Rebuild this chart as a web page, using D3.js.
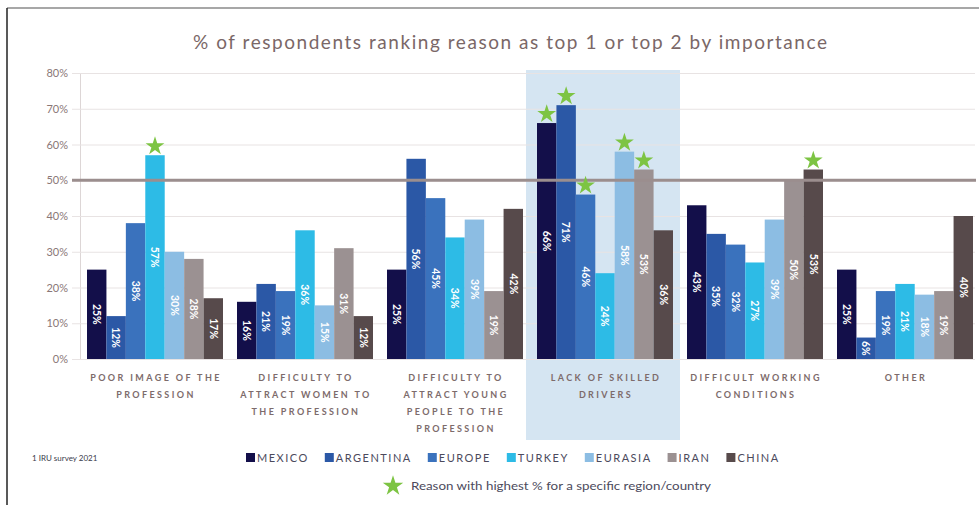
<!DOCTYPE html>
<html>
<head>
<meta charset="utf-8">
<script src="https://cdn.jsdelivr.net/npm/d3@7"></script>
<style>
  body { margin: 0; background: #fff; }
  svg { display: block; }
</style>
</head>
<body>
<script>
// chart data
var categories = [
  ["POOR IMAGE OF THE", "PROFESSION"],
  ["DIFFICULTY TO", "ATTRACT WOMEN TO", "THE PROFESSION"],
  ["DIFFICULTY TO", "ATTRACT YOUNG", "PEOPLE TO THE", "PROFESSION"],
  ["LACK OF SKILLED", "DRIVERS"],
  ["DIFFICULT WORKING", "CONDITIONS"],
  ["OTHER"]
];
var countries = ["MEXICO", "ARGENTINA", "EUROPE", "TURKEY", "EURASIA", "IRAN", "CHINA"];
var colors = ["#130f4a", "#2b58a6", "#3a72bd", "#2dbbe6", "#8cbde3", "#9b9192", "#574a4b"];

var mexico    = [25, 16, 25, 66, 43, 25];
var argentina = [12, 21, 56, 71, 35, 6];
var europe    = [38, 19, 45, 46, 32, 19];
var turkey    = [57, 36, 34, 24, 27, 21];
var eurasia   = [30, 15, 39, 58, 39, 18];
var iran      = [28, 31, 19, 53, 50, 19];
var china     = [17, 12, 42, 36, 53, 40];
var series = [mexico, argentina, europe, turkey, eurasia, iran, china];

// which bars get a star: [category index, country index]
var stars = [[0, 3], [3, 0], [3, 1], [3, 2], [3, 4], [3, 5], [4, 6]];
var highlightCat = 3;
var yTicks = [0, 10, 20, 30, 40, 50, 60, 70, 80];

var W = 979, H = 505;
var svg = d3.select("body").append("svg").attr("width", W).attr("height", H);

var x0 = d3.scaleBand().domain(d3.range(categories.length)).range([80, 980]);
var x1 = d3.scaleBand().domain(countries).range([7, 143]);
var y = d3.scaleLinear().domain([0, 80]).range([359, 73]);

// frame
svg.append("line").attr("x1", 7).attr("x2", W).attr("y1", 8).attr("y2", 8)
  .attr("stroke", "#8a8a8a").attr("stroke-width", 1.5);
svg.append("line").attr("x1", 7).attr("x2", 7).attr("y1", 8).attr("y2", H)
  .attr("stroke", "#222").attr("stroke-width", 1.5);

// highlighted category background
svg.append("rect")
  .attr("x", x0(highlightCat) - 4).attr("y", 70)
  .attr("width", x0.bandwidth() + 4).attr("height", 370)
  .attr("fill", "#d5e5f2");

// title
svg.append("text")
  .attr("x", 510).attr("y", 49)
  .attr("text-anchor", "middle")
  .attr("font-family", "Lato, sans-serif").attr("font-size", 19)
  .attr("fill", "#7a6767")
  .attr("textLength", 634).attr("lengthAdjust", "spacing")
  .text("% of respondents ranking reason as top 1 or top 2 by importance");

// gridlines + y axis
var yAxis = d3.axisLeft(y).tickValues(yTicks).tickFormat(function(d){ return d + "%"; })
  .tickSize(-895).tickPadding(12);
var gy = svg.append("g").attr("transform", "translate(80,0)").call(yAxis);
gy.select(".domain").attr("stroke", "#ddd6d6");
gy.selectAll(".tick line").attr("stroke", "#e8e3e3").attr("x1", -8);
gy.selectAll(".tick text")
  .attr("font-family", "Lato, sans-serif").attr("font-size", 11)
  .attr("fill", "#8a7777");

// bars
var groups = svg.selectAll("g.cat").data(categories).enter().append("g")
  .attr("class", "cat")
  .attr("transform", function(d, i){ return "translate(" + x0(i) + ",0)"; });

groups.each(function(cat, ci){
  var g = d3.select(this);
  var vals = countries.map(function(c, k){ return {country: c, k: k, v: series[k][ci]}; });
  g.selectAll("rect").data(vals).enter().append("rect")
    .attr("x", function(d){ return x1(d.country); })
    .attr("y", function(d){ return y(d.v); })
    .attr("width", x1.bandwidth())
    .attr("height", function(d){ return y(0) - y(d.v); })
    .attr("fill", function(d){ return colors[d.k]; });
  g.selectAll("text.val").data(vals).enter().append("text")
    .attr("class", "val")
    .attr("transform", function(d){
      var cx = x1(d.country) + x1.bandwidth() / 2;
      var cy = (y(d.v) + y(0)) / 2;
      return "translate(" + cx + "," + cy + ") rotate(90)";
    })
    .attr("text-anchor", "middle").attr("dy", "0.35em")
    .attr("font-family", "Lato, sans-serif").attr("font-size", 10.5).attr("font-weight", "bold")
    .attr("fill", "#fff")
    .text(function(d){ return d.v + "%"; });
});

// 50% reference line on top of bars
svg.append("line")
  .attr("x1", 72).attr("x2", 976)
  .attr("y1", y(50)).attr("y2", y(50))
  .attr("stroke", "#9b8e8e").attr("stroke-width", 3);

// stars
var star = d3.symbol().type(d3.symbolStar).size(110);
svg.selectAll("path.star").data(stars).enter().append("path")
  .attr("class", "star")
  .attr("d", star)
  .attr("fill", "#7dc443")
  .attr("transform", function(d){
    var cx = x0(d[0]) + x1(countries[d[1]]) + x1.bandwidth() / 2;
    var cy = y(series[d[1]][d[0]]) - 9;
    return "translate(" + cx + "," + cy + ")";
  });

// category labels
var catLabels = svg.selectAll("text.cat").data(categories).enter().append("text")
  .attr("class", "cat")
  .attr("text-anchor", "middle")
  .attr("font-family", "Lato, sans-serif").attr("font-size", 9).attr("font-weight", "bold")
  .attr("letter-spacing", 2.4)
  .attr("fill", "#7d6b6b");
catLabels.each(function(lines, i){
  var t = d3.select(this);
  lines.forEach(function(line, j){
    t.append("tspan")
      .attr("x", x0(i) + x0.bandwidth() / 2 + 1)
      .attr("y", 381 + j * 17)
      .text(line);
  });
});

// footnote
svg.append("text")
  .attr("x", 32).attr("y", 461)
  .attr("font-family", "Lato, sans-serif").attr("font-size", 8)
  .attr("fill", "#3a3a4a")
  .text("1 IRU survey 2021");

// legend
var lx = 246;
countries.forEach(function(c, k){
  svg.append("rect").attr("x", lx).attr("y", 453).attr("width", 9).attr("height", 9)
    .attr("fill", colors[k]);
  var t = svg.append("text")
    .attr("x", lx + 11).attr("y", 461.5)
    .attr("font-family", "Lato, sans-serif").attr("font-size", 11)
    .attr("letter-spacing", 1.5)
    .attr("fill", "#4c4a5c")
    .text(c);
  lx += 11 + t.node().getComputedTextLength() + 16;
});

svg.append("path")
  .attr("d", d3.symbol().type(d3.symbolStar).size(130))
  .attr("transform", "translate(393,486)")
  .attr("fill", "#7dc443");
svg.append("text")
  .attr("x", 411).attr("y", 490)
  .attr("font-family", "Lato, sans-serif").attr("font-size", 11.5)
  .attr("fill", "#4c4a5c")
  .attr("textLength", 300).attr("lengthAdjust", "spacingAndGlyphs")
  .text("Reason with highest % for a specific region/country");
</script>
</body>
</html>
